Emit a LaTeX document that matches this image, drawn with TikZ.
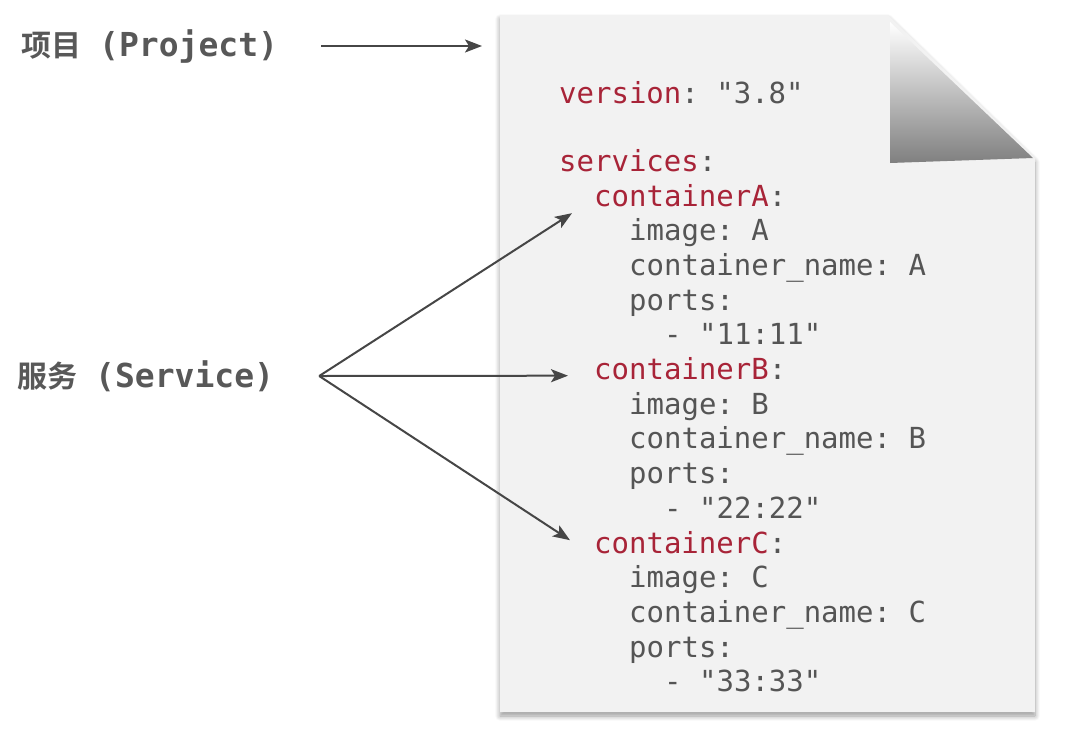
\documentclass[tikz,border=0pt]{standalone}
\usepackage{fontspec}
\setmonofont{DejaVu Sans Mono}
\newfontfamily\cjk{Noto Sans CJK SC}[BoldFont={* Bold}]
\usepackage{tikz}
\usetikzlibrary{arrows.meta, shadows.blur, positioning}

\definecolor{keyred}{RGB}{168,36,56}
\definecolor{valgray}{RGB}{85,85,85}
\definecolor{labelgray}{RGB}{88,88,88}
\definecolor{arrowgray}{RGB}{70,70,70}
\definecolor{paper}{RGB}{242,242,242}

\newcommand{\keyw}[1]{\textcolor{keyred}{#1}}
\newcommand{\lat}[1]{\hspace{18pt}{\ttfamily\fontsize{33}{36}\selectfont #1}}

\tikzset{
  code/.style={anchor=base west, inner sep=0pt, text=valgray,
               font=\ttfamily\fontsize{29}{34}\selectfont},
  sidelabel/.style={anchor=west, inner sep=0pt, text=labelgray,
               font=\cjk\bfseries\fontsize{30}{34}\selectfont},
  link/.style={draw=arrowgray, line width=2pt,
               -{Stealth[length=17pt,width=13pt,inset=4pt]}}
}

\begin{document}
\begin{tikzpicture}[x=1pt, y=-1pt]
\useasboundingbox (0,0) rectangle (1070,729);

% the page with its folded corner
\fill[paper, blur shadow={shadow xshift=0pt, shadow yshift=-4pt,
      shadow blur radius=5pt, shadow blur steps=8}]
  (500,15) -- (888,15) -- (1035,158) -- (1035,712) -- (500,712) -- cycle;
\shade[shading=axis, shading angle=-45, bottom color=black!50,
       middle color=white!96!black, top color=white]
  (890,22) -- (890,163) -- (1033,158) -- cycle;

% the compose file
\node[code] (ver)  at (559,103)   {\keyw{version}: "3.8"};
\node[code] (svcs) at (559,171)   {\keyw{services}:};
\node[code] (cA)   at (594,206)   {\keyw{containerA}:};
\node[code] (imA)  at (629,240.7) {image: A};
\node[code] (cnA)  at (629,275.4) {container\_name: A};
\node[code] (ptA)  at (629,310.1) {ports:};
\node[code] (pmA)  at (664,344.8) {-~"11:11"};
\node[code] (cB)   at (594,379.5) {\keyw{containerB}:};
\node[code] (imB)  at (629,414.2) {image: B};
\node[code] (cnB)  at (629,448.9) {container\_name: B};
\node[code] (ptB)  at (629,483.6) {ports:};
\node[code] (pmB)  at (664,518.3) {-~"22:22"};
\node[code] (cC)   at (594,553)   {\keyw{containerC}:};
\node[code] (imC)  at (629,587.7) {image: C};
\node[code] (cnC)  at (629,622.4) {container\_name: C};
\node[code] (ptC)  at (629,657.1) {ports:};
\node[code] (pmC)  at (664,691.8) {-~"33:33"};

% labels on the left
\node[sidelabel] (proj) at (21,46)  {项目\lat{(Project)}};
\node[sidelabel] (serv) at (17,376) {服务\lat{(Service)}};
\coordinate (projtip) at (482,46);

\draw[link] ([xshift=43pt]proj.east) -- (projtip);
\draw[link] ([xshift=45pt]serv.east) -- ([xshift=-22pt,yshift=-18pt]cA.west);
\draw[link] ([xshift=45pt]serv.east) -- ([xshift=-26pt,yshift=-7pt]cB.west);
\draw[link] ([xshift=45pt]serv.east) -- ([xshift=-24pt,yshift=2pt]cC.west);
\end{tikzpicture}
\end{document}
